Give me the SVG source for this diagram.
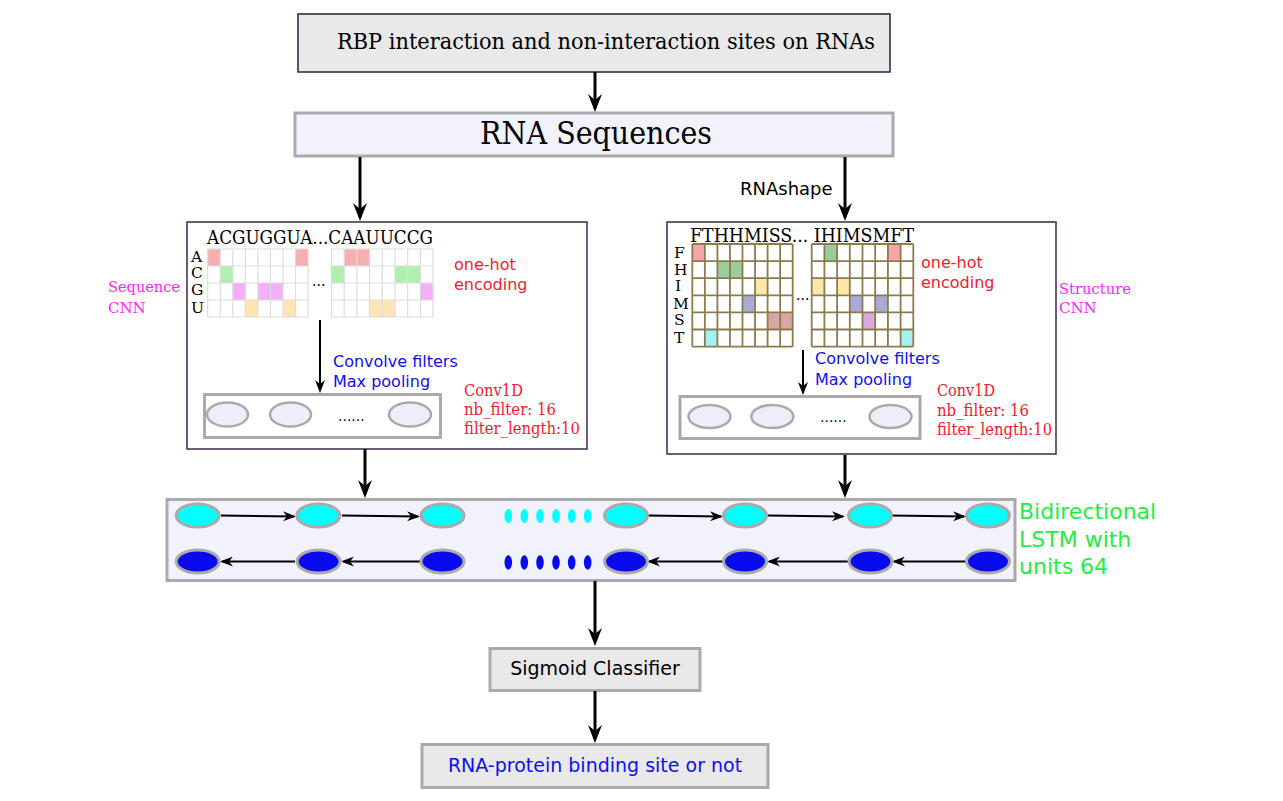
<svg xmlns="http://www.w3.org/2000/svg" width="1283" height="801" viewBox="0 0 1283 801">
<style>
.serif{font-family:"DejaVu Serif","Liberation Serif",serif;}
.sans{font-family:"DejaVu Sans","Liberation Sans",sans-serif;}
.red{fill:#f5182c;}
.blue{fill:#1010ee;}
.mag{fill:#ff22ff;}
.gbox{fill:#eeeefa;stroke:#aaaaaa;stroke-width:2.5;}
.fw{fill:#00ffff;stroke:#aaaaaa;stroke-width:3;}
.bw{fill:#0a0aee;stroke:#aaaaaa;stroke-width:3;}
.main{stroke:#000;stroke-width:3;fill:none;marker-end:url(#big);}
.thin{stroke:#000;stroke-width:2;fill:none;marker-end:url(#small);}
.lgrid{fill:none;stroke:#dcdcdc;stroke-width:1.2;}
.sgrid{fill:none;stroke:#8c7b4e;stroke-width:1.8;}
</style>
<defs>
<marker id="big" markerUnits="userSpaceOnUse" markerWidth="18" markerHeight="14" refX="14" refY="7" orient="auto">
<path d="M0,0 L18,7 L0,14 L6,7 z" fill="#000"/>
</marker>
<marker id="small" markerUnits="userSpaceOnUse" markerWidth="13" markerHeight="10" refX="11" refY="5" orient="auto">
<path d="M0,0 L13,5 L0,10 L4,5 z" fill="#000"/>
</marker>
</defs>

<g id="input">
<rect x="298" y="14" width="592" height="58" fill="#e9e9e9" stroke="#3c2a48" stroke-width="1.6"/>
<text class="serif" x="337" y="49" font-size="21.5" textLength="538" lengthAdjust="spacingAndGlyphs">RBP interaction and non-interaction sites on RNAs</text>
</g>

<g id="rna-sequences">
<rect x="295" y="113" width="598" height="43" fill="#f2f2fc" stroke="#aaaaaa" stroke-width="3"/>
<text class="serif" x="480" y="144" font-size="32" textLength="232" lengthAdjust="spacingAndGlyphs">RNA Sequences</text>
</g>

<text id="rnashape-label" class="sans" x="740" y="195" font-size="18">RNAshape</text>

<g id="sequence-cnn">
<rect x="187" y="222" width="400" height="227" fill="#fff" stroke="#4b3553" stroke-width="1.6"/>
<text class="serif mag" x="108" y="292" font-size="15" textLength="72" lengthAdjust="spacingAndGlyphs">Sequence</text>
<text class="serif mag" x="108" y="313" font-size="15">CNN</text>
<text class="serif" x="207" y="244" font-size="18.5" textLength="226" lengthAdjust="spacingAndGlyphs">ACGUGGUA...CAAUUCCG</text>
<g class="serif" font-size="15.5">
<text x="191" y="262">A</text>
<text x="191" y="278">C</text>
<text x="191" y="295">G</text>
<text x="191" y="313">U</text>
</g>
<g>
<rect x="207.7" y="249" width="12.55" height="17" fill="#f8aeae"/>
<rect x="295.55" y="249" width="12.55" height="17" fill="#f8aeae"/>
<rect x="220.25" y="266" width="12.55" height="17" fill="#aff0af"/>
<rect x="232.8" y="283" width="12.55" height="17" fill="#f6aef6"/>
<rect x="257.9" y="283" width="12.55" height="17" fill="#f6aef6"/>
<rect x="270.45" y="283" width="12.55" height="17" fill="#f6aef6"/>
<rect x="245.35" y="300" width="12.55" height="17" fill="#fde6b4"/>
<rect x="283" y="300" width="12.55" height="17" fill="#fde6b4"/>
<path class="lgrid" d="M207.7,249V317 M220.25,249V317 M232.8,249V317 M245.35,249V317 M257.9,249V317 M270.45,249V317 M283,249V317 M295.55,249V317 M308.1,249V317 M207.7,249H308.1 M207.7,266H308.1 M207.7,283H308.1 M207.7,300H308.1 M207.7,317H308.1"/>
</g>
<text class="serif" x="312" y="286" font-size="14">...</text>
<g>
<rect x="344.2" y="249" width="12.7" height="17" fill="#f8aeae"/>
<rect x="356.9" y="249" width="12.7" height="17" fill="#f8aeae"/>
<rect x="331.5" y="266" width="12.7" height="17" fill="#aff0af"/>
<rect x="395" y="266" width="12.7" height="17" fill="#aff0af"/>
<rect x="407.7" y="266" width="12.7" height="17" fill="#aff0af"/>
<rect x="420.4" y="283" width="12.7" height="17" fill="#f6aef6"/>
<rect x="369.6" y="300" width="12.7" height="17" fill="#fde6b4"/>
<rect x="382.3" y="300" width="12.7" height="17" fill="#fde6b4"/>
<path class="lgrid" d="M331.5,249V317 M344.2,249V317 M356.9,249V317 M369.6,249V317 M382.3,249V317 M395,249V317 M407.7,249V317 M420.4,249V317 M433.1,249V317 M331.5,249H433.1 M331.5,266H433.1 M331.5,283H433.1 M331.5,300H433.1 M331.5,317H433.1"/>
</g>
<text class="sans red" x="454" y="270" font-size="16">one-hot</text>
<text class="sans red" x="454" y="290" font-size="16">encoding</text>
<text class="sans blue" x="333" y="367" font-size="16">Convolve filters</text>
<text class="sans blue" x="333" y="387" font-size="16">Max pooling</text>
<rect x="204.5" y="394.5" width="236" height="43" fill="#fff" stroke="#aaaaaa" stroke-width="3"/>
<ellipse class="gbox" cx="227.5" cy="414.5" rx="20.5" ry="12"/>
<ellipse class="gbox" cx="290.5" cy="414.5" rx="20.5" ry="12"/>
<ellipse class="gbox" cx="410" cy="414.5" rx="21" ry="12"/>
<text class="sans" x="338" y="421" font-size="14">......</text>
<text class="serif red" x="464" y="396" font-size="17" textLength="59" lengthAdjust="spacingAndGlyphs">Conv1D</text>
<text class="serif red" x="464" y="415" font-size="17" textLength="92" lengthAdjust="spacingAndGlyphs">nb_filter: 16</text>
<text class="serif red" x="464" y="434" font-size="17" textLength="116" lengthAdjust="spacingAndGlyphs">filter_length:10</text>
</g>

<g id="structure-cnn">
<rect x="667" y="222" width="389" height="232" fill="#fff" stroke="#4b3553" stroke-width="1.6"/>
<text class="serif mag" x="1059" y="294" font-size="15" textLength="72" lengthAdjust="spacingAndGlyphs">Structure</text>
<text class="serif mag" x="1059" y="313" font-size="15">CNN</text>
<text class="serif" x="690" y="242" font-size="18.5" textLength="224" lengthAdjust="spacingAndGlyphs">FTHHMISS... IHIMSMFT</text>
<g class="serif" font-size="15.5">
<text x="674" y="258">F</text>
<text x="674" y="275">H</text>
<text x="675" y="291">I</text>
<text x="673" y="309">M</text>
<text x="674" y="325">S</text>
<text x="674" y="343">T</text>
</g>
<g>
<rect x="692.3" y="244" width="12.55" height="17.1" fill="#f5a6a6"/>
<rect x="717.4" y="261.1" width="12.55" height="17.1" fill="#9ccc9c"/>
<rect x="729.95" y="261.1" width="12.55" height="17.1" fill="#9ccc9c"/>
<rect x="755.05" y="278.2" width="12.55" height="17.1" fill="#fde8aa"/>
<rect x="742.5" y="295.3" width="12.55" height="17.1" fill="#aaaad8"/>
<rect x="767.6" y="312.4" width="12.55" height="17.1" fill="#d8a6a6"/>
<rect x="780.15" y="312.4" width="12.55" height="17.1" fill="#d8a6a6"/>
<rect x="704.85" y="329.5" width="12.55" height="17.1" fill="#a2f4f4"/>
<path class="sgrid" d="M692.3,244V346.6 M704.85,244V346.6 M717.4,244V346.6 M729.95,244V346.6 M742.5,244V346.6 M755.05,244V346.6 M767.6,244V346.6 M780.15,244V346.6 M792.7,244V346.6 M692.3,244H792.7 M692.3,261.1H792.7 M692.3,278.2H792.7 M692.3,295.3H792.7 M692.3,312.4H792.7 M692.3,329.5H792.7 M692.3,346.6H792.7"/>
</g>
<text class="serif" x="796" y="300" font-size="14">...</text>
<g>
<rect x="824.4" y="244" width="12.7" height="17.1" fill="#9ccc9c"/>
<rect x="887.9" y="244" width="12.7" height="17.1" fill="#f5a6a6"/>
<rect x="811.7" y="278.2" width="12.7" height="17.1" fill="#fde8aa"/>
<rect x="837.1" y="278.2" width="12.7" height="17.1" fill="#fde8aa"/>
<rect x="849.8" y="295.3" width="12.7" height="17.1" fill="#aaaad8"/>
<rect x="875.2" y="295.3" width="12.7" height="17.1" fill="#aaaad8"/>
<rect x="862.5" y="312.4" width="12.7" height="17.1" fill="#d8aad8"/>
<rect x="900.6" y="329.5" width="12.7" height="17.1" fill="#a2f4f4"/>
<path class="sgrid" d="M811.7,244V346.6 M824.4,244V346.6 M837.1,244V346.6 M849.8,244V346.6 M862.5,244V346.6 M875.2,244V346.6 M887.9,244V346.6 M900.6,244V346.6 M913.3,244V346.6 M811.7,244H913.3 M811.7,261.1H913.3 M811.7,278.2H913.3 M811.7,295.3H913.3 M811.7,312.4H913.3 M811.7,329.5H913.3 M811.7,346.6H913.3"/>
</g>
<text class="sans red" x="921" y="268" font-size="16">one-hot</text>
<text class="sans red" x="921" y="288" font-size="16">encoding</text>
<text class="sans blue" x="815" y="364" font-size="16">Convolve filters</text>
<text class="sans blue" x="815" y="385" font-size="16">Max pooling</text>
<rect x="680" y="396.5" width="240" height="42" fill="#fff" stroke="#aaaaaa" stroke-width="3"/>
<ellipse class="gbox" cx="709.5" cy="416.5" rx="21" ry="11.5"/>
<ellipse class="gbox" cx="772.3" cy="416.5" rx="21" ry="11.5"/>
<ellipse class="gbox" cx="890.5" cy="416.5" rx="21" ry="11.5"/>
<text class="sans" x="820" y="422" font-size="14">......</text>
<text class="serif red" x="937" y="396" font-size="17" textLength="58" lengthAdjust="spacingAndGlyphs">Conv1D</text>
<text class="serif red" x="937" y="416" font-size="17" textLength="92" lengthAdjust="spacingAndGlyphs">nb_filter: 16</text>
<text class="serif red" x="937" y="435" font-size="17" textLength="115" lengthAdjust="spacingAndGlyphs">filter_length:10</text>
</g>

<g id="bilstm">
<rect x="167" y="499.5" width="848" height="81" fill="#f2f2fc" stroke="#aaaaaa" stroke-width="3"/>
<g stroke="#000" stroke-width="2" fill="none" marker-end="url(#small)">
<line x1="221" y1="515.5" x2="294" y2="516.5"/>
<line x1="342" y1="515.5" x2="418" y2="516.5"/>
<line x1="648" y1="515.5" x2="721" y2="516.5"/>
<line x1="768" y1="515.5" x2="843" y2="516.5"/>
<line x1="891" y1="515.5" x2="964" y2="516.5"/>
<line x1="295" y1="561.5" x2="222" y2="561.5"/>
<line x1="420" y1="561.5" x2="343" y2="561.5"/>
<line x1="722" y1="561.5" x2="649" y2="561.5"/>
<line x1="848" y1="561.5" x2="769" y2="561.5"/>
<line x1="966" y1="561.5" x2="894" y2="561.5"/>
</g>
<ellipse class="fw" cx="197.7" cy="515.5" rx="21.5" ry="11.5"/>
<ellipse class="fw" cx="318.3" cy="515.5" rx="21.5" ry="11.5"/>
<ellipse class="fw" cx="442.5" cy="515.5" rx="21.5" ry="11.5"/>
<ellipse class="fw" cx="626" cy="515.5" rx="21.5" ry="11.5"/>
<ellipse class="fw" cx="745" cy="515.5" rx="21.5" ry="11.5"/>
<ellipse class="fw" cx="870" cy="515.5" rx="21.5" ry="11.5"/>
<ellipse class="fw" cx="988" cy="515.5" rx="21.5" ry="11.5"/>
<ellipse class="bw" cx="197.7" cy="561.5" rx="21.5" ry="11.5"/>
<ellipse class="bw" cx="318.6" cy="561.5" rx="21.5" ry="11.5"/>
<ellipse class="bw" cx="442.5" cy="561.5" rx="21.5" ry="11.5"/>
<ellipse class="bw" cx="626" cy="561.5" rx="21.5" ry="11.5"/>
<ellipse class="bw" cx="745" cy="561.5" rx="21.5" ry="11.5"/>
<ellipse class="bw" cx="870.5" cy="561.5" rx="21.5" ry="11.5"/>
<ellipse class="bw" cx="988" cy="561.5" rx="21.5" ry="11.5"/>
<g fill="#00ffff">
<ellipse cx="508.3" cy="516" rx="3.8" ry="7"/>
<ellipse cx="524.3" cy="516" rx="3.8" ry="7"/>
<ellipse cx="540" cy="516" rx="3.8" ry="7"/>
<ellipse cx="556" cy="516" rx="3.8" ry="7"/>
<ellipse cx="571.7" cy="516" rx="3.8" ry="7"/>
<ellipse cx="587.7" cy="516" rx="3.8" ry="7"/>
</g>
<g fill="#0a0aee">
<ellipse cx="508.3" cy="562.5" rx="3.8" ry="7.2"/>
<ellipse cx="524.3" cy="562.5" rx="3.8" ry="7.2"/>
<ellipse cx="540" cy="562.5" rx="3.8" ry="7.2"/>
<ellipse cx="556" cy="562.5" rx="3.8" ry="7.2"/>
<ellipse cx="571.7" cy="562.5" rx="3.8" ry="7.2"/>
<ellipse cx="587.7" cy="562.5" rx="3.8" ry="7.2"/>
</g>
<g class="sans" font-size="22" fill="#22ee44">
<text x="1019" y="519">Bidirectional</text>
<text x="1019" y="546.5">LSTM with</text>
<text x="1019" y="574">units 64</text>
</g>
</g>

<g id="sigmoid">
<rect x="490" y="648.5" width="210" height="42" fill="#e9e9e9" stroke="#aaaaaa" stroke-width="3"/>
<text class="sans" x="595" y="675" font-size="19" text-anchor="middle">Sigmoid Classifier</text>
</g>

<g id="output">
<rect x="422" y="744.5" width="346" height="43" fill="#e9e9e9" stroke="#aaaaaa" stroke-width="3"/>
<text class="sans blue" x="595" y="772" font-size="19" text-anchor="middle">RNA-protein binding site or not</text>
</g>

<g id="connectors">
<line class="main" x1="595" y1="72" x2="595" y2="108"/>
<line class="main" x1="360" y1="157" x2="360" y2="217"/>
<line class="main" x1="845" y1="157" x2="845" y2="217"/>
<line class="thin" x1="320" y1="320" x2="320" y2="391"/>
<line class="thin" x1="803" y1="350" x2="803" y2="393"/>
<line class="main" x1="365" y1="449" x2="365" y2="494"/>
<line class="main" x1="845" y1="455" x2="845" y2="494"/>
<line class="main" x1="595" y1="581" x2="595" y2="642"/>
<line class="main" x1="595" y1="691" x2="595" y2="739"/>
</g>
</svg>
